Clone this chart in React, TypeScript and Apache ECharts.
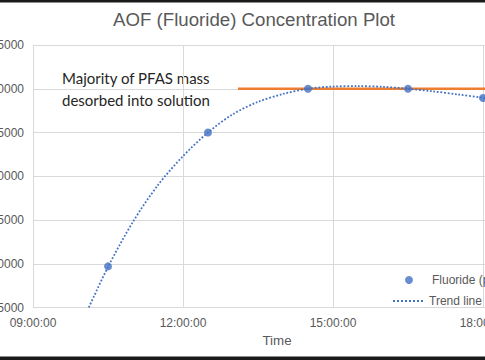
import React, { useEffect, useRef } from "react";
import * as echarts from "echarts";

// Measured points (time of day, fluoride concentration)
const sampleTimes = ["10:30", "12:30", "14:30", "16:30", "18:00"];
const fluorideValues = [19700, 35000, 40000, 40000, 38950];

// Trend line
const trendTimes = [
  "10:07", "10:30", "11:00", "11:30", "12:00", "12:30", "13:00", "13:30", "14:00",
  "14:30", "15:00", "15:30", "16:00", "16:30", "17:00", "17:30", "18:00", "18:30", "18:46",
];
const trendValues = [
  15000, 19640, 24800, 29000, 32300, 35000, 37100, 38500, 39400,
  40000, 40250, 40300, 40220, 40000, 39700, 39350, 38950, 38450, 38150,
];

// Plateau marker line (orange)
const plateauTimes = ["13:06", "18:46"];
const plateauValues = [40000, 40000];

const xTickHours = [9, 12, 15, 18];
const yTicks = [15000, 20000, 25000, 30000, 35000, 40000, 45000];

const seriesNames = ["Fluoride (ppb)", "Trend line"];
const titleText = "AOF (Fluoride) Concentration Plot";
const noteText = "Majority of PFAS mass\ndesorbed into solution";

const toHours = (t: string) => {
  const [h, m] = t.split(":").map(Number);
  return h + m / 60;
};

const GREY = "#595959";
const GRID = "#d9d9d9";
const BLUE = "#4472C4";
const ORANGE = "#ED7D31";
const FONT = "Liberation Sans, Arial, sans-serif";

export default function App() {
  const ref = useRef<HTMLDivElement>(null);

  useEffect(() => {
    if (!ref.current) return;
    const chart = echarts.init(ref.current, undefined, { renderer: "svg" });
    const option: any = {
      animation: false,
      backgroundColor: "#ffffff",
      textStyle: { fontFamily: FONT },
      title: {
        text: titleText,
        left: 113,
        top: 10,
        padding: 0,
        textStyle: { fontSize: 18.67, fontWeight: "normal", color: GREY, fontFamily: FONT },
      },
      grid: {
        left: 33,
        top: 45,
        width: 488,
        height: 262.5,
        containLabel: false,
        outerBoundsMode: "none",
      },
      xAxis: {
        type: "value",
        min: 9,
        max: 18.76,
        interval: 3,
        name: "Time",
        nameLocation: "middle",
        nameGap: 26,
        nameTextStyle: { fontSize: 13.33, color: GREY, fontFamily: FONT },
        axisLine: { show: false },
        axisTick: { show: false },
        splitLine: { show: true, lineStyle: { color: GRID, width: 1 } },
        axisLabel: {
          fontSize: 12,
          color: GREY,
          margin: 9,
          fontFamily: FONT,
          showMaxLabel: false,
          hideOverlap: false,
          formatter: (v: number) => {
            const h = xTickHours.find((x) => Math.abs(x - v) < 1e-6);
            return h === undefined ? "" : `${String(h).padStart(2, "0")}:00:00`;
          },
        },
      },
      yAxis: {
        type: "value",
        min: yTicks[0],
        max: yTicks[yTicks.length - 1],
        interval: 5000,
        axisLine: { show: false },
        axisTick: { show: false },
        splitLine: { show: true, lineStyle: { color: GRID, width: 1 } },
        axisLabel: {
          fontSize: 12,
          color: GREY,
          margin: 9,
          fontFamily: FONT,
          formatter: (v: number) => String(v),
        },
      },
      legend: [
        {
          data: [seriesNames[0]],
          left: 405,
          top: 274,
          padding: 0,
          itemWidth: 8,
          itemHeight: 8,
          icon: "circle",
          textStyle: { fontSize: 12, color: GREY, fontFamily: FONT, padding: [0, 0, 0, 14] },
        },
        {
          data: [seriesNames[1]],
          left: 392,
          top: 295,
          padding: 0,
          itemWidth: 31,
          itemHeight: 14,
          itemStyle: { color: "transparent", borderWidth: 0, opacity: 0 },
          textStyle: { fontSize: 12, color: GREY, fontFamily: FONT },
        },
      ],
      series: [
        {
          name: "Plateau",
          type: "line",
          data: plateauTimes.map((t, i) => [toHours(t), plateauValues[i]]),
          symbol: "none",
          lineStyle: { color: ORANGE, width: 2.5 },
          itemStyle: { color: ORANGE },
          z: 2,
        },
        {
          name: seriesNames[1],
          type: "line",
          data: trendTimes.map((t, i) => [toHours(t), trendValues[i]]),
          symbol: "none",
          smooth: 0.3,
          clip: true,
          lineStyle: { color: BLUE, width: 1.8, type: "dotted" },
          itemStyle: { color: BLUE },
          z: 3,
        },
        {
          name: seriesNames[0],
          type: "scatter",
          data: sampleTimes.map((t, i) => [toHours(t), fluorideValues[i]]),
          symbol: "circle",
          symbolSize: 8,
          itemStyle: { color: BLUE },
          z: 4,
        },
      ],
      graphic: [
        {
          type: "group",
          z: 10,
          children: [
            {
              type: "rect",
              shape: { x: 50, y: 63, width: 175, height: 48 },
              style: { fill: "#ffffff" },
            },
            {
              type: "text",
              x: 62,
              y: 67,
              style: {
                text: noteText,
                font: "15px Lato",
                fill: "#262626",
                lineHeight: 22,
                verticalAlign: "top",
              },
            },
          ],
        },
        {
          type: "rect",
          z: 20,
          shape: { x: 0, y: 0, width: 485, height: 2.5 },
          style: { fill: "#1a1a1a" },
        },
        {
          type: "rect",
          z: 20,
          shape: { x: 0, y: 356.5, width: 485, height: 4 },
          style: { fill: "#1a1a1a" },
        },
      ],
    };
    chart.setOption(option);
    return () => chart.dispose();
  }, []);

  return (
    <div
      ref={ref}
      style={{ position: "fixed", left: 0, top: 0, width: 485, height: 360, background: "#fff" }}
    />
  );
}
